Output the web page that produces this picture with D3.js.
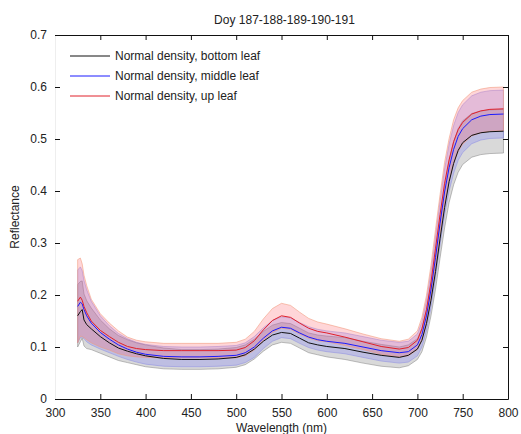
<!DOCTYPE html>
<html>
<head>
<meta charset="utf-8">
<script src="https://cdn.jsdelivr.net/npm/d3@7"></script>
<style>
  body { margin: 0; background: #fff; }
  text { font-family: "Liberation Sans", Arial, sans-serif; fill: #222; }
</style>
</head>
<body>
<svg id="chart" width="521" height="434"></svg>
<script>
const wavelengths = [325,328,330,332,335,340,350,360,370,380,390,400,420,440,460,480,500,510,520,530,540,550,560,570,580,590,600,620,640,660,680,690,700,705,710,715,720,725,730,735,740,745,750,760,770,780,795];

const bottomMean = [0.160,0.168,0.172,0.152,0.143,0.135,0.120,0.108,0.098,0.092,0.087,0.083,0.078,0.076,0.076,0.077,0.080,0.085,0.096,0.111,0.123,0.128,0.126,0.117,0.108,0.104,0.101,0.097,0.090,0.084,0.080,0.084,0.096,0.113,0.145,0.190,0.245,0.308,0.368,0.418,0.453,0.478,0.493,0.507,0.512,0.514,0.515];
const middleMean = [0.178,0.186,0.183,0.172,0.160,0.146,0.128,0.115,0.104,0.096,0.090,0.086,0.082,0.081,0.081,0.082,0.084,0.089,0.100,0.117,0.131,0.138,0.136,0.127,0.119,0.114,0.111,0.107,0.100,0.093,0.089,0.091,0.104,0.124,0.160,0.210,0.272,0.338,0.398,0.445,0.480,0.505,0.520,0.537,0.544,0.547,0.548];
const upMean = [0.188,0.196,0.190,0.178,0.166,0.150,0.132,0.120,0.109,0.101,0.097,0.095,0.093,0.093,0.093,0.093,0.094,0.099,0.112,0.133,0.151,0.160,0.157,0.146,0.136,0.130,0.127,0.119,0.110,0.101,0.096,0.099,0.113,0.135,0.172,0.225,0.290,0.355,0.415,0.460,0.495,0.518,0.532,0.548,0.554,0.557,0.558];

const bottomStd = [0.060,0.058,0.055,0.050,0.046,0.040,0.032,0.027,0.024,0.022,0.021,0.021,0.020,0.019,0.019,0.019,0.019,0.019,0.019,0.019,0.019,0.019,0.019,0.019,0.019,0.019,0.020,0.021,0.021,0.021,0.020,0.020,0.020,0.022,0.026,0.030,0.034,0.037,0.039,0.040,0.041,0.042,0.042,0.042,0.042,0.042,0.042];
const middleStd = [0.070,0.068,0.064,0.056,0.050,0.042,0.032,0.026,0.022,0.020,0.019,0.019,0.019,0.019,0.019,0.019,0.019,0.019,0.020,0.020,0.020,0.020,0.020,0.020,0.020,0.020,0.020,0.020,0.020,0.020,0.020,0.020,0.021,0.024,0.029,0.034,0.039,0.042,0.044,0.045,0.046,0.046,0.046,0.046,0.046,0.046,0.046];
const upStd = [0.080,0.075,0.070,0.060,0.052,0.042,0.032,0.026,0.022,0.018,0.016,0.015,0.014,0.014,0.014,0.014,0.015,0.016,0.018,0.021,0.023,0.024,0.023,0.021,0.019,0.018,0.017,0.016,0.015,0.015,0.015,0.016,0.018,0.022,0.027,0.032,0.036,0.038,0.040,0.041,0.042,0.042,0.042,0.042,0.042,0.042,0.042];

const seriesNames = ["Normal density, bottom leaf", "Normal density, middle leaf", "Normal density, up leaf"];
const xTicks = [300,350,400,450,500,550,600,650,700,750,800];
const yTicks = [0,0.1,0.2,0.3,0.4,0.5,0.6,0.7];

const svg = d3.select("#chart");
const mLeft = 55, mRight = 508, mTop = 35, mBottom = 399;

const x = d3.scaleLinear().domain([300, 800]).range([mLeft, mRight]);
const y = d3.scaleLinear().domain([0, 0.7]).range([mBottom, mTop]);

const series = [
  {name: seriesNames[0], mean: bottomMean, std: bottomStd, line: "#111", band: "rgba(140,140,140,0.33)", edge: "rgba(120,120,120,0.6)"},
  {name: seriesNames[1], mean: middleMean, std: middleStd, line: "#1a1aff", band: "rgba(110,110,255,0.25)", edge: "rgba(120,120,230,0.5)"},
  {name: seriesNames[2], mean: upMean, std: upStd, line: "#e0202a", band: "rgba(255,90,100,0.25)", edge: "rgba(240,150,120,0.7)"}
];

const area = d3.area()
  .x(d => x(d.w))
  .y0(d => y(d.m - d.s))
  .y1(d => y(d.m + d.s));
const line = d3.line().x(d => x(d.w)).y(d => y(d.v));

const plot = svg.append("g");

// bands first so the mean lines sit on top
series.forEach(s => {
  const pts = wavelengths.map((w, i) => ({w: w, m: s.mean[i], s: s.std[i]}));
  plot.append("path")
    .datum(pts)
    .attr("d", area)
    .attr("fill", s.band)
    .attr("stroke", s.edge)
    .attr("stroke-width", 0.8);
});

series.forEach(s => {
  const pts = wavelengths.map((w, i) => ({w: w, v: s.mean[i]}));
  plot.append("path")
    .datum(pts)
    .attr("d", line)
    .attr("fill", "none")
    .attr("stroke", s.line)
    .attr("stroke-width", 1);
});

// axes, matlab style with inward ticks
const axisBottom = svg.append("g")
  .attr("transform", `translate(0,${mBottom})`)
  .call(d3.axisBottom(x).tickValues(xTicks).tickSize(-5).tickPadding(9).tickSizeOuter(0));
const axisTop = svg.append("g")
  .attr("transform", `translate(0,${mTop})`)
  .call(d3.axisTop(x).tickValues(xTicks).tickSize(-5).tickFormat("").tickSizeOuter(0));
const axisLeft = svg.append("g")
  .attr("transform", `translate(${mLeft},0)`)
  .call(d3.axisLeft(y).tickValues(yTicks).tickSize(-5).tickPadding(8).tickSizeOuter(0)
    .tickFormat(d => d === 0 ? "0" : d3.format(".1f")(d)));
const axisRight = svg.append("g")
  .attr("transform", `translate(${mRight},0)`)
  .call(d3.axisRight(y).tickValues(yTicks).tickSize(-5).tickFormat("").tickSizeOuter(0));

axisLeft.select(".domain").attr("stroke", "#eee");
[axisBottom, axisTop, axisLeft, axisRight].forEach(a => {
  a.selectAll("text").style("font-size", "12px").attr("fill", "#222");
  a.selectAll("line").attr("stroke", "#111");
});
[axisBottom, axisTop, axisRight].forEach(a => a.select(".domain").attr("stroke", "#111"));

svg.append("text")
  .attr("x", (mLeft + mRight) / 2 + 3)
  .attr("y", 24)
  .attr("text-anchor", "middle")
  .style("font-size", "12px")
  .text("Doy 187-188-189-190-191");

svg.append("text")
  .attr("x", (mLeft + mRight) / 2)
  .attr("y", 432)
  .attr("text-anchor", "middle")
  .style("font-size", "12px")
  .text("Wavelength (nm)");

svg.append("text")
  .attr("transform", `translate(19,${(mTop + mBottom) / 2}) rotate(-90)`)
  .attr("text-anchor", "middle")
  .style("font-size", "12px")
  .text("Reflectance");

// legend
const legend = svg.append("g").attr("transform", "translate(70,56)");
series.forEach((s, i) => {
  const row = legend.append("g").attr("transform", `translate(0,${i * 20})`);
  row.append("line").attr("x1", 0).attr("x2", 40).attr("y1", 0).attr("y2", 0)
    .attr("stroke", s.line).attr("stroke-width", 1);
  row.append("text").attr("x", 45).attr("y", 4).style("font-size", "12px").text(s.name);
});
</script>
</body>
</html>
